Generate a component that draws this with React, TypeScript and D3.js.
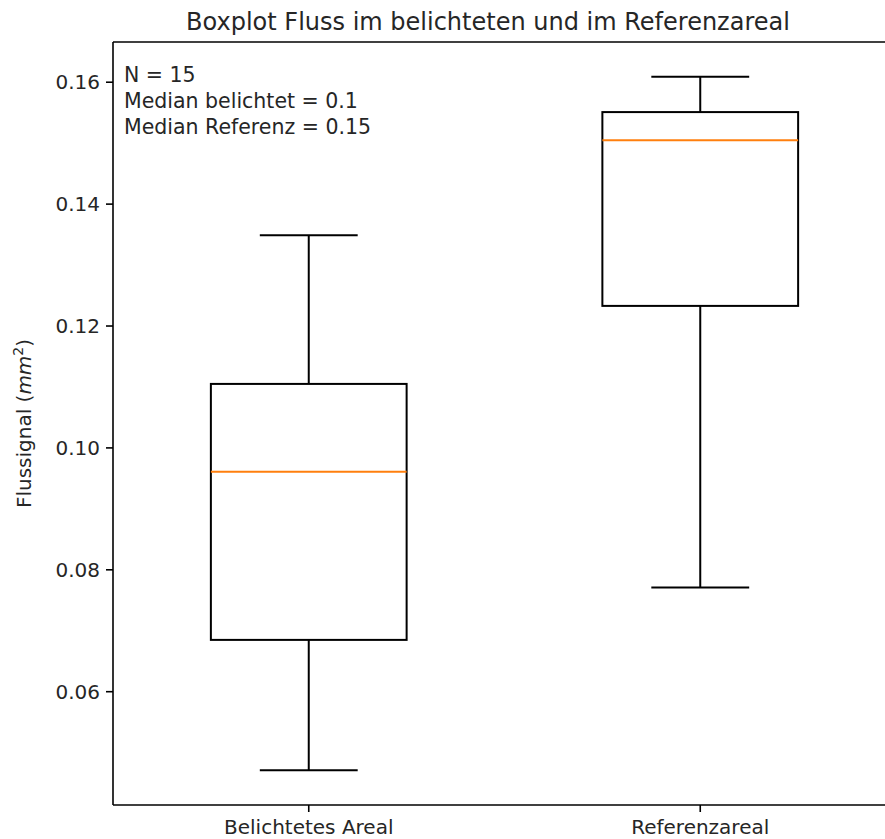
import React from "react";
import * as d3 from "d3";

const categories = ["Belichtetes Areal", "Referenzareal"];
const whiskerLow = [0.0471, 0.0771];
const q1 = [0.0685, 0.1233];
const median = [0.0961, 0.1505];
const q3 = [0.1105, 0.1551];
const whiskerHigh = [0.1349, 0.1609];
const yTicks = [0.06, 0.08, 0.1, 0.12, 0.14, 0.16];
const annotations = ["N = 15", "Median belichtet = 0.1", "Median Referenz = 0.15"];

const W = 885;
const H = 839;
const left = 113;
const right = 896;
const top = 42;
const bottom = 805;
const font = "DejaVu Sans, sans-serif";

export default function App() {
  const x = d3.scaleLinear().domain([0.5, 2.5]).range([left, right]);
  const y = d3.scaleLinear().domain([0.04141, 0.1666]).range([bottom, top]);
  const boxW = 0.5;
  const capW = 0.25;
  return (
    <svg width={W} height={H} style={{ position: "absolute", left: 0, top: 0, background: "#fff" }}>
      <rect x={0} y={0} width={W} height={H} fill="#fff" />
      <text x={488} y={30} textAnchor="middle" fontFamily={font} fontSize={24} fill="#262626">
        Boxplot Fluss im belichteten und im Referenzareal
      </text>
      {categories.map((c, i) => {
        const p = i + 1;
        return (
          <g key={c} stroke="#000" strokeWidth={2} fill="none">
            <line x1={x(p)} x2={x(p)} y1={y(q1[i])} y2={y(whiskerLow[i])} />
            <line x1={x(p)} x2={x(p)} y1={y(q3[i])} y2={y(whiskerHigh[i])} />
            <line x1={x(p - capW / 2)} x2={x(p + capW / 2)} y1={y(whiskerLow[i])} y2={y(whiskerLow[i])} />
            <line x1={x(p - capW / 2)} x2={x(p + capW / 2)} y1={y(whiskerHigh[i])} y2={y(whiskerHigh[i])} />
            <rect x={x(p - boxW / 2)} y={y(q3[i])} width={x(p + boxW / 2) - x(p - boxW / 2)} height={y(q1[i]) - y(q3[i])} />
            <line x1={x(p - boxW / 2)} x2={x(p + boxW / 2)} y1={y(median[i])} y2={y(median[i])} stroke="#ff7f0e" />
          </g>
        );
      })}
      <g stroke="#000" strokeWidth={1.6} fill="none">
        <line x1={left} x2={left} y1={top} y2={bottom} />
        <line x1={left} x2={right} y1={top} y2={top} />
        <line x1={left} x2={right} y1={bottom} y2={bottom} />
        <line x1={right} x2={right} y1={top} y2={bottom} />
      </g>
      {yTicks.map((t) => (
        <g key={t}>
          <line x1={left - 7} x2={left} y1={y(t)} y2={y(t)} stroke="#000" strokeWidth={1.6} />
          <text x={left - 13} y={y(t)} dy="0.36em" textAnchor="end" fontFamily={font} fontSize={20} fill="#262626">
            {d3.format(".2f")(t)}
          </text>
        </g>
      ))}
      {categories.map((c, i) => (
        <g key={c}>
          <line x1={x(i + 1)} x2={x(i + 1)} y1={bottom} y2={bottom + 7} stroke="#000" strokeWidth={1.6} />
          <text x={x(i + 1)} y={834} textAnchor="middle" fontFamily={font} fontSize={20} fill="#262626">
            {c}
          </text>
        </g>
      ))}
      <text
        transform={`translate(31,${(top + bottom) / 2}) rotate(-90)`}
        textAnchor="middle"
        fontFamily={font}
        fontSize={20}
        fill="#262626"
      >
        Flussignal (<tspan fontStyle="italic">mm</tspan>
        <tspan fontSize={14} dy={-8}>2</tspan>
        <tspan dy={8}>)</tspan>
      </text>
      {annotations.map((a, i) => (
        <text key={a} x={124} y={82 + i * 26} fontFamily={font} fontSize={20.5} fill="#262626">
          {a}
        </text>
      ))}
    </svg>
  );
}
